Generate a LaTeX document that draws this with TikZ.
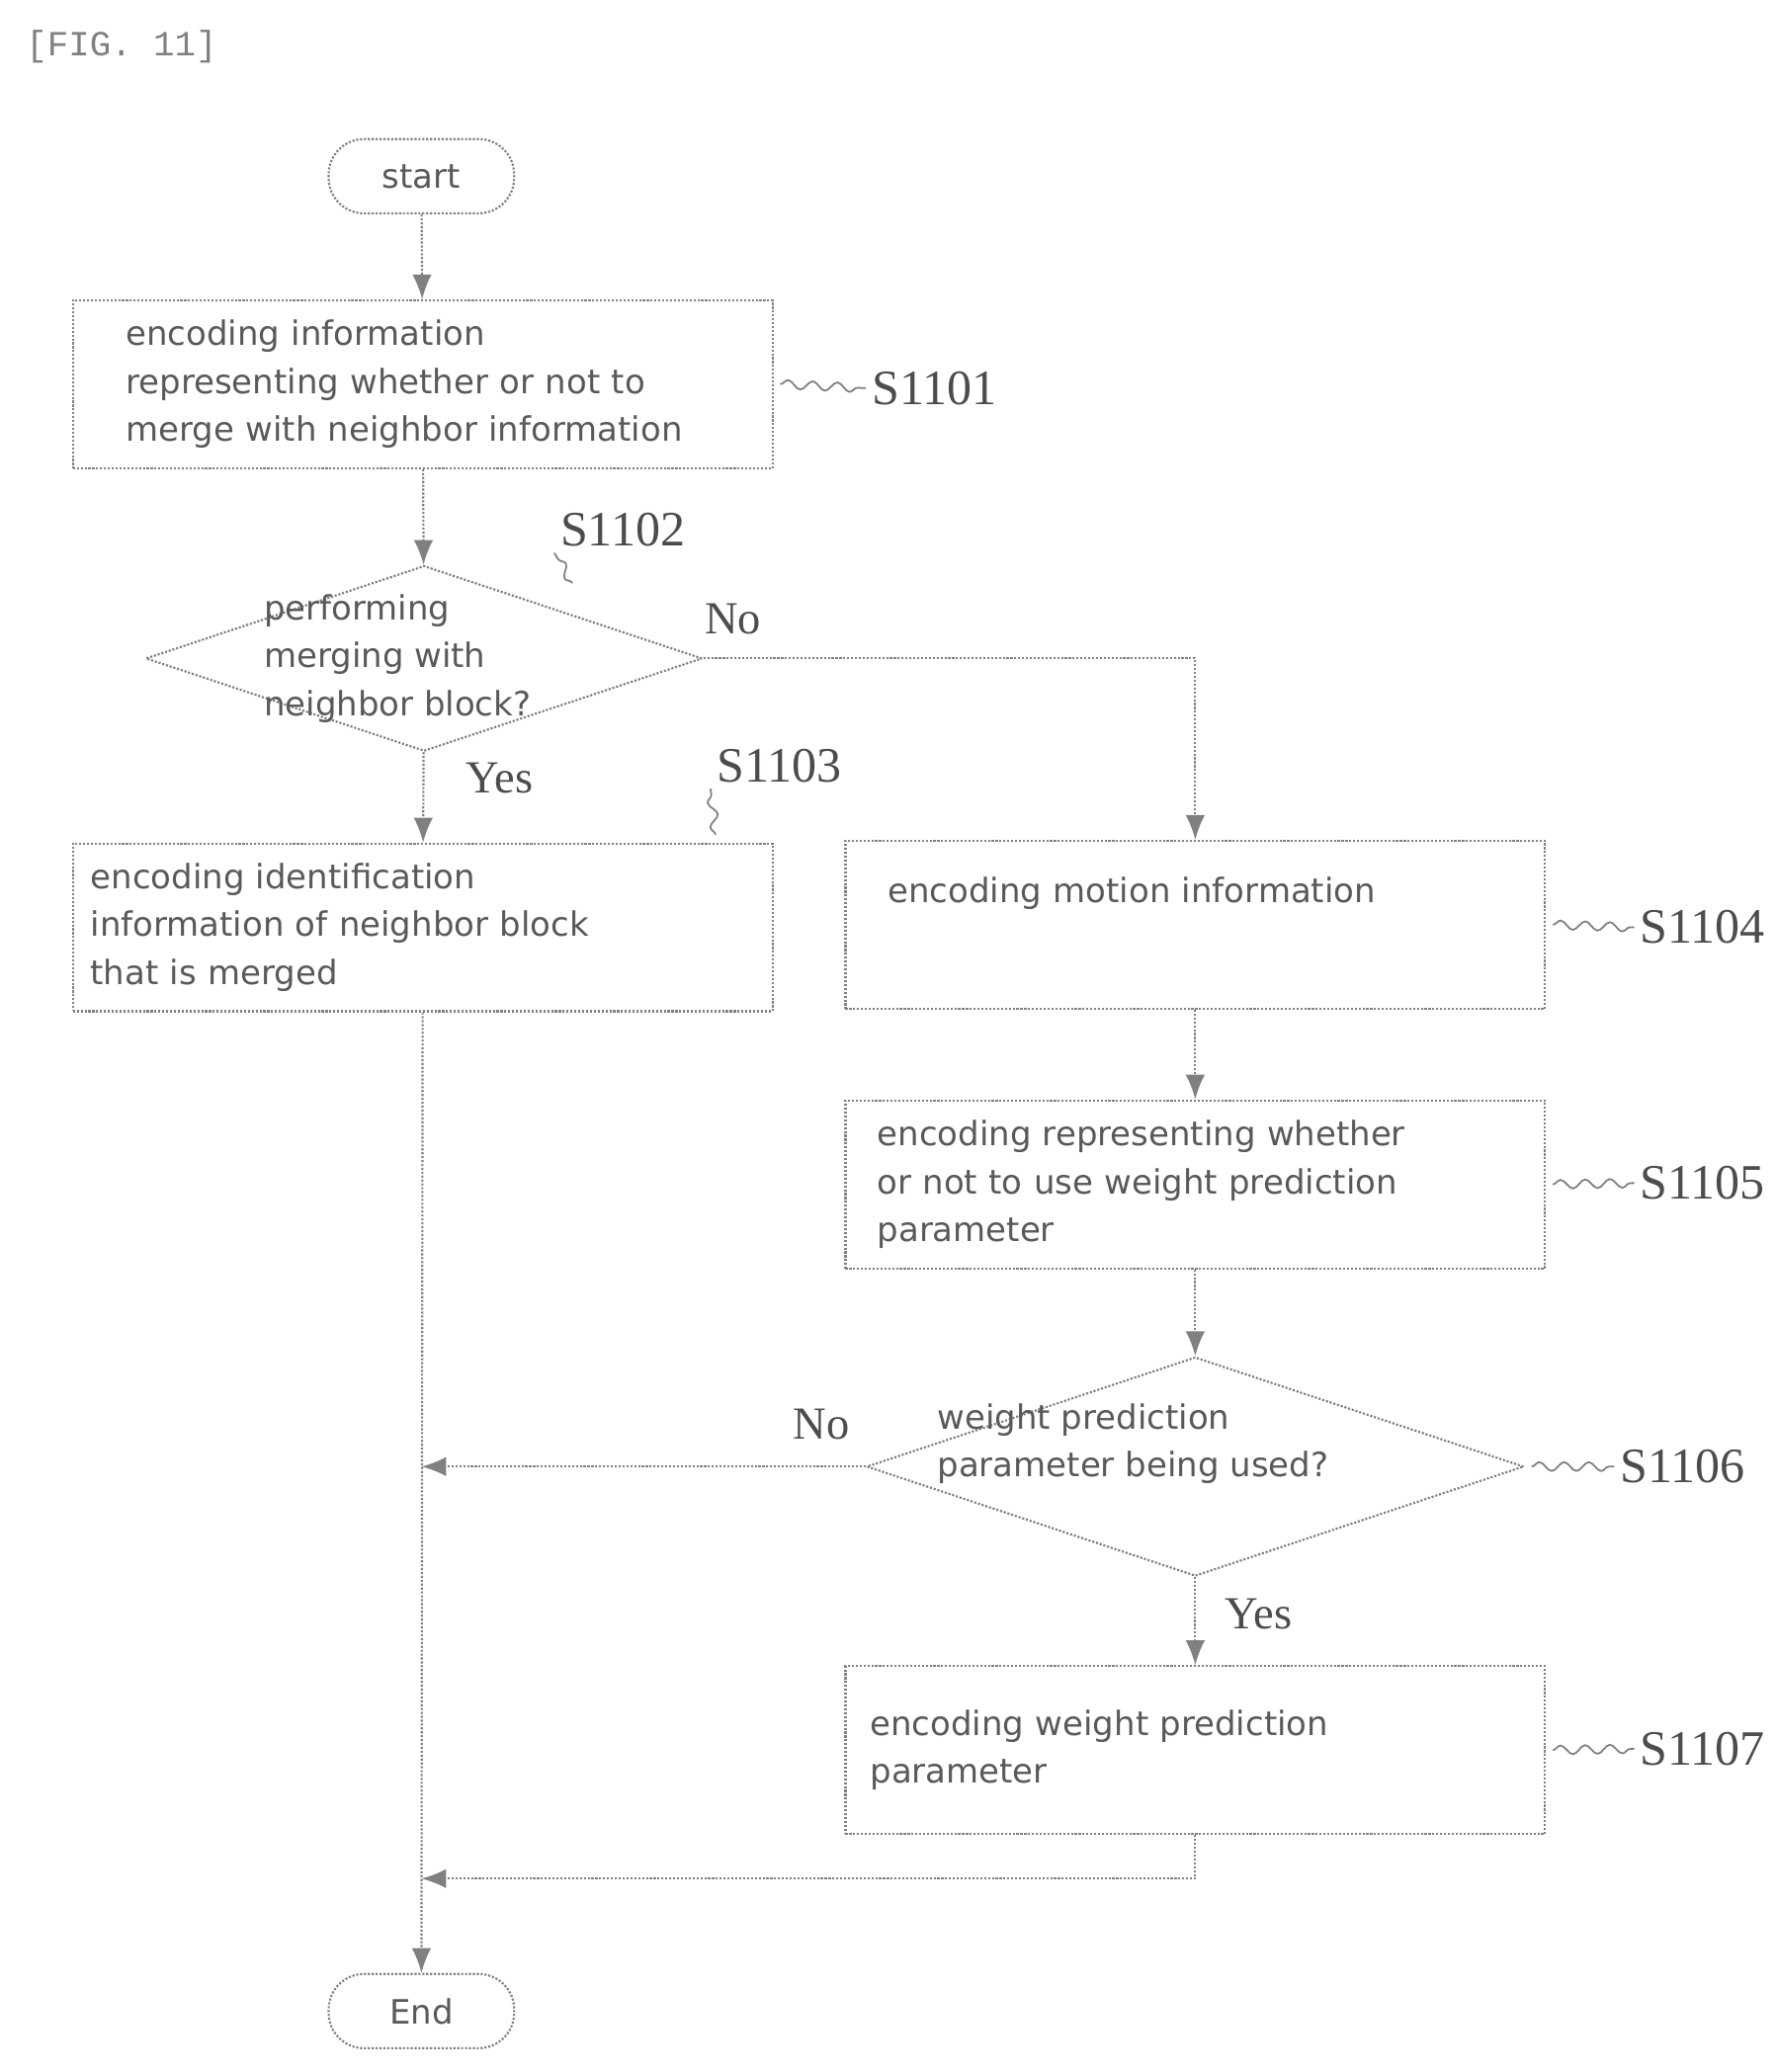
\documentclass[tikz,border=0pt]{standalone}
\usepackage{fontspec}
\setmainfont{DejaVu Sans}
\newfontfamily\labelfont{Liberation Serif}
\newfontfamily\figfont{Liberation Mono}
\usetikzlibrary{positioning,shapes.geometric,arrows.meta,decorations.pathmorphing}

\tikzset{
  flow/.style={draw=gray, densely dotted, line width=1.2pt},
  arr/.style={flow, -{Latex[length=14pt,width=11pt]}},
  procbox/.style={draw=gray, densely dotted, line width=1.2pt, minimum width=396pt, minimum height=95pt, text width=376pt, font=\fontsize{19}{27}\selectfont, align=left, text=gray!70!black},
  term/.style={draw=gray, densely dotted, line width=1.2pt, rounded corners=20pt, minimum width=105pt, minimum height=42pt, font=\fontsize{19}{23}\selectfont, text=gray!70!black},
  test/.style={draw=gray, densely dotted, line width=1.2pt, diamond, inner sep=0pt},
  testtext/.style={font=\fontsize{19}{27}\selectfont, align=left, text=gray!70!black},
  tag/.style={font=\labelfont\fontsize{28}{30}\selectfont, text=gray!60!black},
  yn/.style={font=\labelfont\fontsize{26}{28}\selectfont, text=gray!60!black},
  wave/.style={draw=gray, line width=1pt, decorate, decoration={snake, amplitude=2.5pt, segment length=14pt}}
}

\begin{document}
\begin{tikzpicture}[x=0.75pt,y=-0.75pt]
  \useasboundingbox (0,0) rectangle (1340,1564);
  \node[anchor=west, font=\figfont\fontsize{20}{22}\selectfont, text=gray] (fig) at (15,35) {[FIG. 11]};
%%
  % Node: start
  \node[term] (start) at (318,133) {start};
  % Node: S1101
  \node[procbox] (s1101) at (319,290) {\hspace*{20pt}encoding information\\\hspace*{20pt}representing whether or not to\\\hspace*{20pt}merge with neighbor information};
  % Node: S1102
  \node[test, minimum width=315pt, minimum height=105pt] (s1102) at (320,497) {};
  \node[testtext] (s1102t) at (300,497) {performing\\merging with\\neighbor block?};
  % Node: S1103
  \node[procbox] (s1103) at (319,700) {encoding identification\\information of neighbor block\\that is merged};
  % Node: S1104
  \node[procbox, text depth=40pt] (s1104) at (902,698) {\hspace*{14pt}encoding motion information};
  % Node: S1105
  \node[procbox] (s1105) at (902,894) {\hspace*{8pt}encoding representing whether\\\hspace*{8pt}or not to use weight prediction\\\hspace*{8pt}parameter};
  % Node: S1106
  \node[test, minimum width=372pt, minimum height=124pt] (s1106) at (902,1107) {};
  \node[testtext] (s1106t) at (855,1090) {weight prediction\\parameter being used?};
  % Node: S1107
  \node[procbox] (s1107) at (902,1321) {\hspace*{4pt}encoding weight prediction\\\hspace*{4pt}parameter};
  % Node: End
  \node[term] (end) at (318,1518) {End};
  \coordinate (no1) at (902,497);
  \coordinate (join1) at (318,1107);
  \coordinate (join2) at (318,1418);
  \coordinate (turn2) at (902,1418);
%%
  % Labels
  \node[tag] (t1101) at (705,293) {S1101};
  \node[tag] (t1102) at (470,400) {S1102};
  \node[tag] (t1103) at (588,578) {S1103};
  \node[tag] (t1104) at (1285,700) {S1104};
  \node[tag] (t1105) at (1285,893) {S1105};
  \node[tag] (t1106) at (1270,1107) {S1106};
  \node[tag] (t1107) at (1285,1320) {S1107};
  \draw[wave] (s1101.east) ++(5,0) -- (t1101.west);
  \draw[wave] (432,440) -- (t1102.south west);
  \draw[wave] (540,630) -- (t1103.south west);
  \draw[wave] (s1104.east) ++(5,0) -- (t1104.west);
  \draw[wave] (s1105.east) ++(5,0) -- (t1105.west);
  \draw[wave] (s1106.east) ++(5,0) -- (t1106.west);
  \draw[wave] (s1107.east) ++(5,0) -- (t1107.west);
%%
  % Edge: start -> S1101
  \draw[arr] (start) -- (s1101);
  % Edge: S1101 -> S1102
  \draw[arr] (s1101) -- (s1102);
  % Edge: S1102 -> S1103
  \draw[arr] (s1102) -- (s1103);
  \node[yn] (yes1) at (377,587) {Yes};
  % Edge: S1102 -> S1104
  \draw[arr] (s1102.east) -- (no1) -- (s1104);
  \node[yn] (noA) at (553,467) {No};
  % Edge: S1104 -> S1105
  \draw[arr] (s1104) -- (s1105);
  % Edge: S1105 -> S1106
  \draw[arr] (s1105) -- (s1106);
  % Edge: S1106 -> join1
  \draw[arr] (s1106.west) -- (join1);
  \node[yn] (noB) at (620,1075) {No};
  % Edge: S1106 -> S1107
  \draw[arr] (s1106) -- (s1107);
  \node[yn] (yes2) at (950,1218) {Yes};
  % Edge: S1107 -> join2
  \draw[arr] (s1107) -- (turn2) -- (join2);
  % Edge: S1103 -> End
  \draw[arr] (s1103) -- (end);
\end{tikzpicture}
\end{document}
